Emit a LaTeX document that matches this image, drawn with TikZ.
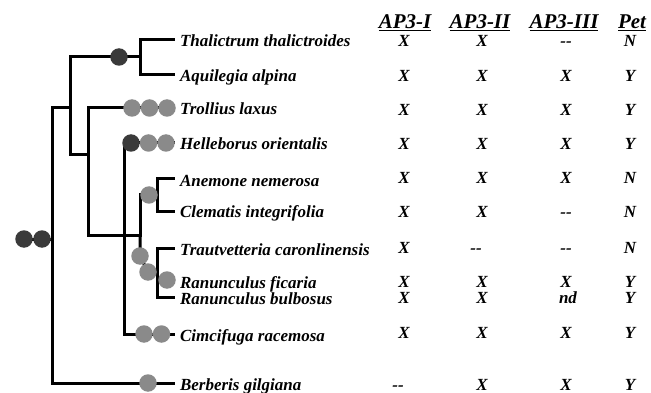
\documentclass[tikz,border=0pt]{standalone}
\usepackage{fontspec}
\setmainfont{Liberation Serif}
\usepackage{tikz}
\usetikzlibrary{positioning}
\definecolor{dotdark}{RGB}{58,58,58}
\definecolor{dotgrey}{RGB}{138,138,138}
\tikzset{
  taxonbox/.style={anchor=west, inner xsep=5pt, inner ysep=0pt, outer sep=0pt,
      text height=14pt, text depth=0pt, font=\fontsize{17}{19}\selectfont\bfseries\itshape},
  cellbox/.style={anchor=base, inner sep=0pt, font=\fontsize{17}{19}\selectfont\bfseries\itshape},
  headbox/.style={anchor=base, inner sep=0pt, font=\fontsize{21}{24}\selectfont\bfseries\itshape},
  mybranch/.style={line width=3pt, black},
  darkdot/.style={circle, fill=dotdark, inner sep=0pt, outer sep=0pt, minimum size=17.5pt},
  greydot/.style={circle, fill=dotgrey, inner sep=0pt, outer sep=0pt, minimum size=17.5pt},
}

\begin{document}
\begin{tikzpicture}[x=1pt, y=-1pt]
      \useasboundingbox (0,0) rectangle (651,393);
      % taxa
      \node[taxonbox] (thal) at (175,40) {Thalictrum thalictroides};
      \node[taxonbox] (aqui) at (175,75) {Aquilegia alpina};
      \node[taxonbox] (trol) at (175,108) {Trollius laxus};
      \node[taxonbox] (hell) at (175,143) {Helleborus orientalis};
      \node[taxonbox] (anem) at (175,179) {Anemone nemerosa};
      \node[taxonbox] (clem) at (175,211) {Clematis integrifolia};
      \node[taxonbox] (trau) at (175,248) {Trautvetteria caronlinensis};
      \node[taxonbox] (rfic) at (175,281) {Ranunculus ficaria};
      \node[taxonbox] (rbul) at (175,297) {Ranunculus bulbosus};
      \node[taxonbox] (cimc) at (175,334) {Cimcifuga racemosa};
      \node[taxonbox] (berb) at (175,383) {Berberis gilgiana};
      % inner nodes of the tree
      \coordinate (rt) at (24,239);
      \coordinate (r0) at (52,239);
      \coordinate (nA) at (70,108);
      \coordinate (nB) at (140,57);
      \coordinate (nC) at (88,155);
      \coordinate (nD) at (124,235);
      \coordinate (nE) at (140,235);
      \coordinate (nE2) at (140,256);
      \coordinate (nE3) at (148,272);
      \coordinate (nF) at (157,195);
      \coordinate (nG) at (157,272);
      % branches
      \draw[mybranch] (rt) -- (r0);
      \draw[mybranch] (r0) |- (nA);
      \draw[mybranch] (r0) |- (berb.west);
      \draw[mybranch] (nA) |- (nB);
      \draw[mybranch] (nA) |- (nC);
      \draw[mybranch] (nB) |- (thal.west);
      \draw[mybranch] (nB) |- (aqui.west);
      \draw[mybranch] (nC) |- (trol.west);
      \draw[mybranch] (nC) |- (nD);
      \draw[mybranch] (nD) |- (hell.west);
      \draw[mybranch] (nD) |- (cimc.west);
      \draw[mybranch] (nD) -- (nE) |- (nF);
      \draw[mybranch] (nE) -- (nE2) -- (nE3) -- (nG);
      \draw[mybranch] (nF) |- (anem.west);
      \draw[mybranch] (nF) |- (clem.west);
      \draw[mybranch] (nG) |- (trau.west);
      \draw[mybranch] (nG) |- (rfic.west);
      \draw[mybranch] (nG) |- (rbul.west);
      % dots on the branches
      \node[darkdot] (rd1) at (rt) {};
      \node[darkdot, right=0.5pt of rd1] (rd2) {};
      \node[darkdot] (bd1) at (119,57) {};
      \node[greydot] (td1) at (132,108) {};
      \node[greydot, right=0pt of td1] (td2) {};
      \node[greydot, right=0pt of td2] (td3) {};
      \node[darkdot] (hd1) at (131,143) {};
      \node[greydot, right=0pt of hd1] (hd2) {};
      \node[greydot, right=0pt of hd2] (hd3) {};
      \node[greydot] (fd1) at (149,195) {};
      \node[greydot] (ed1) at (nE2) {};
      \node[greydot] (ed2) at (nE3) {};
      \node[greydot] (gd1) at (167,280) {};
      \node[greydot] (cd1) at (144,334) {};
      \node[greydot, right=0pt of cd1] (cd2) {};
      \node[greydot] (bbd1) at (148,383) {};
      % table
      \node[headbox] (h1) at (405,29) {\underline{AP3-I}};
      \node[headbox] (h2) at (480,29) {\underline{AP3-II}};
      \node[headbox] (h3) at (564,29) {\underline{AP3-III}};
      \node[headbox] (h4) at (632,29) {\underline{Pet}};
      \node[cellbox] (c1a) at (404,47) {X}; \node[cellbox] (c1b) at (482,47) {X}; \node[cellbox] (c1c) at (566,47) {-{}-}; \node[cellbox] (c1d) at (630,47) {N};
      \node[cellbox] (c2a) at (404,82) {X}; \node[cellbox] (c2b) at (482,82) {X}; \node[cellbox] (c2c) at (566,82) {X}; \node[cellbox] (c2d) at (630,82) {Y};
      \node[cellbox] (c3a) at (404,116) {X}; \node[cellbox] (c3b) at (482,116) {X}; \node[cellbox] (c3c) at (566,116) {X}; \node[cellbox] (c3d) at (630,116) {Y};
      \node[cellbox] (c4a) at (404,150) {X}; \node[cellbox] (c4b) at (482,150) {X}; \node[cellbox] (c4c) at (566,150) {X}; \node[cellbox] (c4d) at (630,150) {Y};
      \node[cellbox] (c5a) at (404,184) {X}; \node[cellbox] (c5b) at (482,184) {X}; \node[cellbox] (c5c) at (566,184) {X}; \node[cellbox] (c5d) at (630,184) {N};
      \node[cellbox] (c6a) at (404,218) {X}; \node[cellbox] (c6b) at (482,218) {X}; \node[cellbox] (c6c) at (566,218) {-{}-}; \node[cellbox] (c6d) at (630,218) {N};
      \node[cellbox] (c7a) at (404,253) {X}; \node[cellbox] (c7b) at (476,253) {-{}-}; \node[cellbox] (c7c) at (566,253) {-{}-}; \node[cellbox] (c7d) at (630,253) {N};
      \node[cellbox] (c8a) at (404,287) {X}; \node[cellbox] (c8b) at (482,287) {X}; \node[cellbox] (c8c) at (566,287) {X}; \node[cellbox] (c8d) at (630,287) {Y};
      \node[cellbox] (c9a) at (404,303) {X}; \node[cellbox] (c9b) at (482,303) {X}; \node[cellbox] (c9c) at (568,303) {nd}; \node[cellbox] (c9d) at (630,303) {Y};
      \node[cellbox] (c10a) at (404,338) {X}; \node[cellbox] (c10b) at (482,338) {X}; \node[cellbox] (c10c) at (566,338) {X}; \node[cellbox] (c10d) at (630,338) {Y};
      \node[cellbox] (c11a) at (398,390) {-{}-}; \node[cellbox] (c11b) at (482,390) {X}; \node[cellbox] (c11c) at (566,390) {X}; \node[cellbox] (c11d) at (630,390) {Y};
    \end{tikzpicture}
\end{document}
